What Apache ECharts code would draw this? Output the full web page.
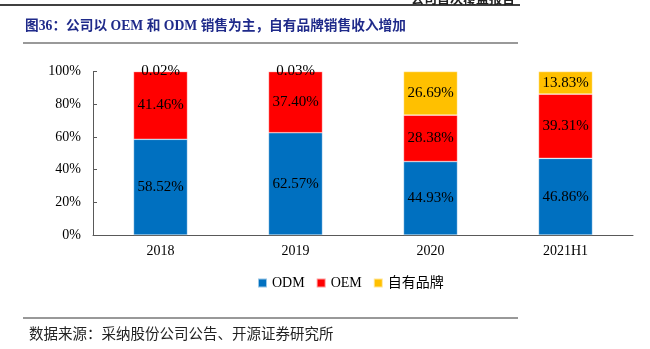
<!DOCTYPE html>
<html>
<head>
<meta charset="utf-8">
<script src="https://cdn.jsdelivr.net/npm/echarts@6/dist/echarts.min.js"></script>
<style>
  html, body { margin: 0; padding: 0; background: #fff; }
  #chart { width: 650px; height: 349px; }
</style>
</head>
<body>
<div id="chart"></div>
<script>
// Revenue mix by sales channel (share of revenue, %)
const categories = ['2018', '2019', '2020', '2021H1'];
const odmShare = [58.52, 62.57, 44.93, 46.86];
const oemShare = [41.46, 37.40, 28.38, 39.31];
const ownBrandShare = [0.02, 0.03, 26.69, 13.83];
const yTicks = [0, 20, 40, 60, 80, 100];

const serif = '"Liberation Serif", "Times New Roman", serif';
const cjk = '"Noto Sans CJK SC", sans-serif';
const mixed = '"Liberation Serif", "Noto Sans CJK SC", serif';

const chart = echarts.init(document.getElementById('chart'), null, { renderer: 'canvas' });

function barSeries(name, data, color) {
  return {
    name: name,
    type: 'bar',
    stack: 'mix',
    barWidth: '40%',
    data: data,
    itemStyle: { color: color, borderColor: 'rgba(255,255,255,0.6)', borderWidth: 0.6 },
    label: {
      show: true,
      position: 'inside',
      color: '#000',
      fontFamily: serif,
      fontSize: 15,
      formatter: p => p.value.toFixed(2) + '%'
    }
  };
}

chart.setOption({
  animation: false,
  grid: { left: 93, right: 17, top: 71.5, bottom: 114 },
  graphic: [
    // page header line and running header
    { type: 'line', shape: { x1: 0, y1: 5, x2: 520, y2: 5 }, style: { stroke: '#000', lineWidth: 1.5 } },
    { type: 'text', style: { text: '公司首次覆盖报告', x: 515, y: -8, textAlign: 'right', fill: '#222', font: 'bold 13px ' + cjk } },
    // figure title
    { type: 'text', style: { text: '图36：公司以 OEM 和 ODM 销售为主，自有品牌销售收入增加', x: 25, y: 20, fill: '#1f2a8a', font: 'bold 13.7px ' + mixed } },
    { type: 'line', shape: { x1: 23, y1: 43, x2: 518, y2: 43 }, style: { stroke: '#999', lineWidth: 2 } },
    // source note
    { type: 'line', shape: { x1: 23, y1: 318, x2: 518, y2: 318 }, style: { stroke: '#333', lineWidth: 1 } },
    { type: 'text', style: { text: '数据来源：采纳股份公司公告、开源证券研究所', x: 29, y: 326, fill: '#222', font: '14.5px ' + cjk } }
  ],
  legend: {
    data: ['ODM', 'OEM', '自有品牌'],
    left: 257,
    top: 276,
    padding: 0,
    itemWidth: 9,
    itemHeight: 9,
    itemGap: 11,
    icon: 'rect',
    textStyle: { fontFamily: mixed, fontSize: 14, color: '#000' }
  },
  xAxis: {
    type: 'category',
    data: categories,
    axisLine: { lineStyle: { color: '#595959', width: 1 } },
    axisTick: { inside: true, length: 4, lineStyle: { color: '#595959' } },
    axisLabel: { color: '#000', fontFamily: serif, fontSize: 14, margin: 9 }
  },
  yAxis: {
    type: 'value',
    min: yTicks[0],
    max: yTicks[yTicks.length - 1],
    interval: yTicks[1] - yTicks[0],
    axisLine: { show: true, lineStyle: { color: '#595959', width: 1 } },
    axisTick: { show: true, inside: true, length: 4, lineStyle: { color: '#595959' } },
    splitLine: { show: false },
    axisLabel: { color: '#000', fontFamily: serif, fontSize: 14, margin: 12, formatter: '{value}%' }
  },
  series: [
    barSeries('ODM', odmShare, '#0070c0'),
    barSeries('OEM', oemShare, '#ff0000'),
    barSeries('自有品牌', ownBrandShare, '#ffc000')
  ]
});
</script>
</body>
</html>
